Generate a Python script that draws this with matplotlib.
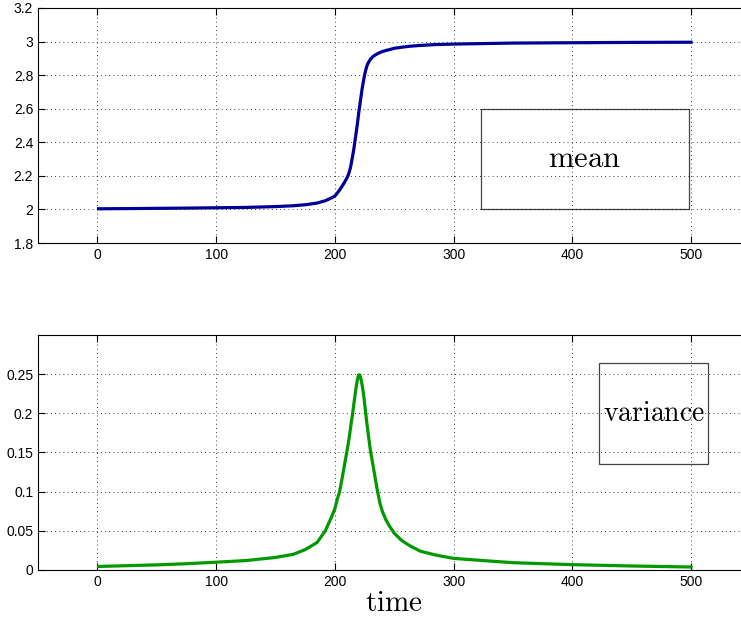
import matplotlib
matplotlib.use('Agg')
import matplotlib.pyplot as plt
from matplotlib.patches import Rectangle

plt.rcParams['font.family'] = ['Liberation Sans', 'DejaVu Sans']
plt.rcParams['mathtext.fontset'] = 'cm'

# values
t = [1, 25, 50, 75, 100, 125, 150, 165, 175, 185, 192, 197, 200, 202, 204,
     206, 208, 210, 211, 212, 213, 214, 215, 216, 217, 218, 219, 220, 221,
     222, 223, 224, 225, 226, 227, 228, 230, 232, 234, 236, 238, 240, 243,
     246, 250, 256, 263, 272, 285, 300, 325, 350, 400, 450, 500]
mean = [2.004, 2.005, 2.0065, 2.008, 2.01, 2.012, 2.017, 2.022, 2.028, 2.038,
        2.052, 2.068, 2.08, 2.097, 2.116, 2.137, 2.16, 2.185, 2.2, 2.22,
        2.245, 2.28, 2.32, 2.36, 2.41, 2.46, 2.51, 2.57, 2.62, 2.67, 2.72,
        2.76, 2.8, 2.83, 2.855, 2.872, 2.895, 2.91, 2.92, 2.928, 2.935, 2.94,
        2.947, 2.952, 2.96, 2.966, 2.972, 2.977, 2.982, 2.985, 2.988, 2.991,
        2.993, 2.995, 2.996]
variance = [0.0045, 0.0055, 0.0065, 0.008, 0.0099, 0.012, 0.016, 0.02, 0.026,
            0.035, 0.05, 0.067, 0.078, 0.09, 0.1, 0.116, 0.133, 0.15, 0.159,
            0.168, 0.179, 0.19, 0.2, 0.212, 0.223, 0.234, 0.243, 0.249, 0.249,
            0.244, 0.236, 0.226, 0.214, 0.2, 0.187, 0.175, 0.152, 0.135, 0.117,
            0.1, 0.085, 0.075, 0.064, 0.056, 0.047, 0.038, 0.031, 0.024, 0.019,
            0.0148, 0.012, 0.0093, 0.0068, 0.0051, 0.0038]

xticks = [0, 100, 200, 300, 400, 500]
mean_yticks = [1.8, 2, 2.2, 2.4, 2.6, 2.8, 3, 3.2]
mean_ylabels = ['1.8', '2', '2.2', '2.4', '2.6', '2.8', '3', '3.2']
var_yticks = [0, 0.05, 0.1, 0.15, 0.2, 0.25]
var_ylabels = ['0', '0.05', '0.1', '0.15', '0.2', '0.25']

fig = plt.figure(figsize=(7.41, 6.19), dpi=100)
ax1 = fig.add_axes([0.0513, 0.6074, 0.9614, 0.3797])
ax2 = fig.add_axes([0.0513, 0.0792, 0.9614, 0.3797])

ax1.plot(t, mean, color='#000099', lw=2.3)
ax1.set_xlim(-50, 550)
ax1.set_ylim(1.8, 3.2)
ax1.set_yticks(mean_yticks)
ax1.set_yticklabels(mean_ylabels)
ax1.add_patch(Rectangle((323, 2.0), 175, 0.6, fill=False, ec='#444444', lw=0.9))
ax1.text(410.5, 2.3, r'$\mathrm{mean}$', ha='center', va='center', fontsize=22)

ax2.plot(t, variance, color='#009900', lw=2.3)
ax2.set_xlim(-50, 550)
ax2.set_ylim(0, 0.3)
ax2.set_yticks(var_yticks)
ax2.set_yticklabels(var_ylabels)
ax2.add_patch(Rectangle((422.6, 0.135), 91.7, 0.129, fill=False, ec='#444444', lw=0.9))
ax2.text(468.5, 0.1995, r'$\mathrm{variance}$', ha='center', va='center', fontsize=20)
ax2.set_xlabel(r'$\mathrm{time}$', fontsize=21, labelpad=0)

for ax in (ax1, ax2):
    ax.set_xticks(xticks)
    ax.grid(True, color='black', linestyle=(0, (1, 4)), lw=0.6)
    ax.tick_params(direction='in', top=True, right=True, length=5,
                   labelsize=10, width=0.8)
    for s in ax.spines.values():
        s.set_linewidth(0.8)

fig.savefig('out.png', dpi=100)
